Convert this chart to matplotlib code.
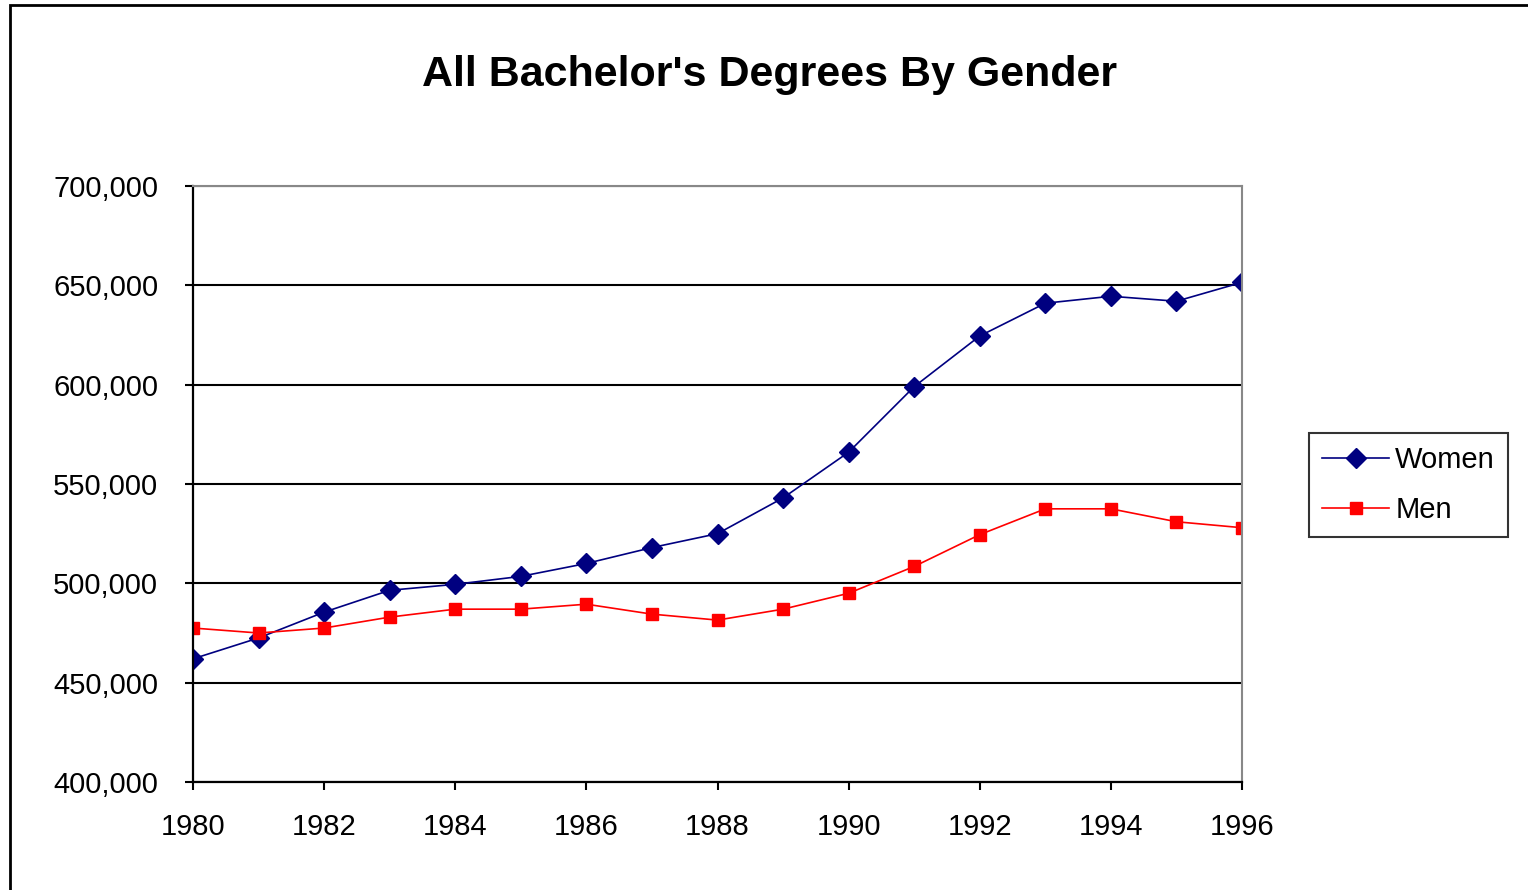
import matplotlib.pyplot as plt
import matplotlib.ticker as mticker
from matplotlib.patches import Rectangle

plt.rcParams['font.family'] = ['Liberation Sans', 'DejaVu Sans']

years = list(range(1980, 1997))
women = [462000, 472500, 485500, 496500, 499500, 503500, 510000, 518000, 525000,
         543000, 566000, 599000, 624500, 641000, 644500, 642000, 651500]
men = [477500, 475000, 477500, 483000, 487000, 487000, 489500, 484500, 481500,
       487000, 495000, 508500, 524500, 537500, 537500, 531000, 528000]
yticks = [400000, 450000, 500000, 550000, 600000, 650000, 700000]

fig = plt.figure(figsize=(15.28, 8.90), dpi=100)
# outer chart border
fig.patches.append(Rectangle((10 / 1528, -0.01), 1.2, 1 - 5 / 890 + 0.01, transform=fig.transFigure,
                             fill=False, edgecolor='black', linewidth=2))

ax = fig.add_axes([193 / 1528, 1 - 782 / 890, (1242 - 193) / 1528, (782 - 186) / 890])
ax.plot(years, women, color='#000080', marker='D', markersize=10, linewidth=1.2, label='Women')
ax.plot(years, men, color='#ff0000', marker='s', markersize=9, linewidth=1.2, label='Men')

ax.set_xlim(1980, 1996)
ax.set_ylim(400000, 700000)
ax.set_xticks(range(1980, 1997, 2))
ax.set_yticks(yticks)
ax.yaxis.set_major_formatter(mticker.FuncFormatter(lambda v, p: f'{int(v):,}'))
ax.tick_params(labelsize=21, length=6, width=1.5, direction='out', colors='black')
ax.tick_params(axis='y', pad=19)
ax.tick_params(axis='x', pad=16)
ax.grid(axis='y', color='black', linewidth=1.5)
ax.set_axisbelow(True)
for s in ['left', 'bottom']:
    ax.spines[s].set_linewidth(1.6)
for s in ['top', 'right']:
    ax.spines[s].set_color('#888888')
    ax.spines[s].set_linewidth(1.5)

fig.text(770 / 1528, 1 - 75 / 890, "All Bachelor's Degrees By Gender", ha='center', va='center',
         fontsize=31, fontweight='bold')

leg = ax.legend(loc='center left', bbox_to_anchor=(1.064, 0.498), fontsize=21, frameon=True,
                fancybox=False, edgecolor='black', handlelength=2.3, handletextpad=0.2,
                borderpad=0.45, labelspacing=0.75, borderaxespad=0)
leg.get_frame().set_linewidth(1.5)

fig.savefig('out.png', dpi=100)
